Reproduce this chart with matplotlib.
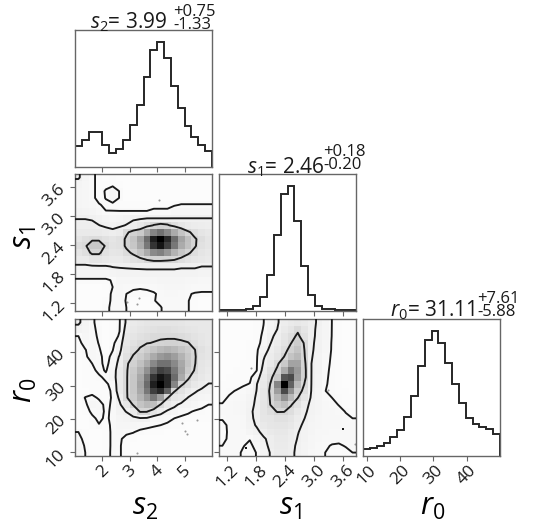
import numpy as np
import matplotlib
matplotlib.use("Agg")
import matplotlib.pyplot as plt
from matplotlib.colors import PowerNorm

plt.rcParams["font.family"] = ["Open Sans", "DejaVu Sans"]
plt.rcParams["mathtext.fontset"] = "custom"
plt.rcParams["mathtext.rm"] = "Open Sans"
plt.rcParams["mathtext.it"] = "Open Sans:italic"

# parameter ranges (axis limits of the corner plot)
s2_range = (1.0, 6.0)
s1_range = (1.03, 3.87)
r0_range = (8.8, 50.0)

s2_ticks = [2, 3, 4, 5]
s1_ticks = [1.2, 1.8, 2.4, 3.0, 3.6]
r0_ticks = [10, 20, 30, 40]

# marginal histograms, 20 bins each
s2_counts = [63, 81, 106, 106, 66, 43, 54, 83, 126, 186, 273, 353, 376, 329, 246, 178, 123, 91, 66, 48]
s1_counts = [2, 2, 3, 4, 5, 16, 43, 108, 231, 356, 378, 274, 136, 48, 16, 6, 5, 3, 2, 2]
r0_counts = [20, 23, 30, 40, 58, 80, 118, 180, 273, 350, 376, 342, 280, 218, 160, 115, 96, 88, 82, 65]

# median, +err, -err
s2_summary = ("3.99", "0.75", "1.33")
s1_summary = ("2.46", "0.18", "0.20")
r0_summary = ("31.11", "7.61", "5.88")

# 2d densities in percent of peak, 20x20, first row = top of panel
dens_s2_s1 = [
    [3.3, 1.8, 1.3, 0.6, 0.5, 0.7, 0.5, 0.4, 0.4, 0.4, 0.4, 0.4, 0.4, 0.4, 0.4, 0.4, 0.4, 0.4, 0.4, 0.4],
    [2.0, 1.6, 1.3, 0.6, 0.7, 0.7, 0.6, 0.4, 0.4, 0.4, 0.4, 0.4, 0.4, 0.4, 0.4, 0.4, 0.4, 0.4, 0.4, 0.4],
    [1.8, 1.6, 1.3, 0.6, 1.1, 1.7, 0.95, 0.4, 0.4, 0.4, 0.4, 0.4, 0.4, 0.4, 0.4, 0.4, 0.4, 0.4, 0.4, 0.4],
    [1.8, 1.6, 1.3, 0.6, 1.05, 1.7, 0.95, 0.5, 0.5, 0.5, 0.5, 0.5, 0.5, 0.5, 0.5, 0.5, 0.5, 0.5, 0.5, 0.5],
    [1.8, 1.7, 1.5, 1.1, 0.75, 0.7, 0.6, 0.6, 0.6, 0.6, 0.6, 0.6, 0.6, 0.6, 0.9, 1.05, 1.05, 1.05, 1.05, 1.05],
    [2.2, 2.0, 1.8, 1.5, 1.05, 1.05, 1.05, 1.05, 1.05, 1.05, 1.05, 1.3, 1.3, 1.3, 1.6, 1.6, 1.6, 1.6, 1.6, 1.6],
    [2.95, 2.95, 2.8, 2.2, 1.8, 1.6, 1.8, 2.3, 2.7, 2.8, 3.05, 3.05, 3.05, 3.05, 3.05, 3.05, 3.05, 3.05, 3.05, 3.05],
    [3.5, 3.5, 3.5, 3.05, 2.6, 2.4, 2.7, 3.1, 3.8, 5, 7, 10.5, 12, 11, 7.5, 5.5, 4.5, 4, 3.8, 3.6],
    [4.5, 4.5, 4.5, 4.5, 4, 3.5, 4, 9, 12, 14, 25, 40, 48, 38, 25, 16, 11, 8, 6, 5],
    [6, 7.5, 8.5, 8.5, 7, 6, 7, 11, 16, 28, 50, 85, 100, 80, 50, 28, 18, 10.6, 8, 6],
    [8, 9, 15, 15, 9, 6.5, 7, 11, 15, 25, 45, 75, 90, 70, 45, 25, 17, 10.6, 7, 6],
    [6, 7.5, 11, 11, 7, 5.5, 6, 8.5, 11, 16, 25, 38, 42, 33, 22, 15, 11, 8, 6, 5],
    [4.5, 4.5, 6, 6, 5, 4.5, 4.5, 5.5, 7, 8, 10.3, 11.5, 11.5, 11, 10.3, 8, 6.5, 5.5, 5, 4.5],
    [2.5, 2.5, 2.6, 2.7, 2.8, 3.1, 3.2, 3.3, 3.4, 3.5, 3.6, 3.6, 3.6, 3.6, 3.6, 3.3, 3.3, 3.3, 3.0, 3.0],
    [1.8, 1.8, 1.8, 1.8, 1.8, 2.0, 2.2, 2.2, 2.2, 2.2, 2.2, 2.2, 2.2, 2.2, 2.2, 2.2, 2.2, 2.2, 2.0, 2.0],
    [0.8, 0.8, 0.8, 0.8, 0.8, 1.1, 1.7, 1.7, 1.6, 1.6, 1.6, 1.7, 1.8, 1.8, 1.8, 1.8, 1.7, 1.6, 1.5, 1.5],
    [0.5, 0.5, 0.5, 0.5, 0.6, 1.0, 1.5, 1.3, 1.15, 1.1, 1.15, 1.3, 1.5, 1.6, 1.6, 1.6, 1.4, 1.25, 1.25, 1.25],
    [0.5, 0.5, 0.5, 0.5, 0.5, 1.2, 1.4, 1.0, 0.8, 0.75, 0.8, 0.9, 1.2, 1.4, 1.4, 1.3, 1.05, 0.95, 0.9, 0.9],
    [0.5, 0.5, 0.5, 0.5, 0.7, 1.15, 1.3, 0.95, 0.5, 0.4, 0.45, 0.95, 1.2, 1.3, 1.3, 1.2, 1.05, 0.6, 0.5, 0.5],
    [0.5, 0.5, 0.5, 0.5, 0.8, 1.2, 1.3, 1.0, 0.5, 0.4, 0.4, 0.6, 0.95, 1.3, 1.3, 1.2, 1.05, 0.6, 0.5, 0.5],
]

dens_s2_r0 = [
    [3.4, 2.0, 1.15, 0.7, 0.5, 0.6, 0.9, 3.3, 4.5, 5, 5.5, 6, 6, 6, 6, 5.5, 5, 5, 5, 5],
    [2.2, 1.8, 1.2, 0.8, 0.5, 0.6, 0.95, 3.8, 5, 6, 6.5, 7, 7.5, 7.5, 7, 6.5, 6, 5.5, 5, 5],
    [1.0, 1.6, 1.3, 0.85, 0.5, 0.6, 1.1, 4.5, 6, 7, 8, 9, 9, 9, 9, 8.5, 7.5, 6.5, 5.5, 5],
    [0.7, 1.4, 1.4, 0.95, 0.5, 0.7, 1.8, 5, 7, 9, 9.8, 10.2, 11, 11.5, 11.5, 11, 10.3, 8, 6, 5],
    [0.6, 0.95, 1.5, 1.1, 0.55, 0.95, 2.2, 6, 8.5, 10.5, 13, 16, 20, 22, 20, 16, 13, 10.1, 7, 5.5],
    [0.55, 0.8, 1.5, 1.3, 0.6, 1.3, 3.2, 7, 10.5, 13, 18, 25, 32, 35, 30, 22, 15, 10.5, 6.5, 5.5],
    [0.5, 0.7, 1.0, 1.3, 0.7, 1.5, 3.8, 9.3, 12, 17, 25, 38, 48, 48, 38, 26, 16, 10.3, 6, 5],
    [0.5, 0.6, 0.7, 1.3, 0.9, 1.7, 4.5, 9.3, 14, 22, 35, 55, 70, 65, 45, 28, 14, 9.5, 5.5, 4.5],
    [0.5, 0.6, 0.7, 0.8, 1.25, 1.8, 4.6, 9.3, 15, 26, 45, 75, 90, 80, 50, 25, 11, 7, 5, 4],
    [0.5, 0.6, 0.65, 0.7, 0.85, 1.3, 4.6, 9.3, 15, 28, 50, 85, 100, 80, 40, 11, 8, 5, 4, 2.9],
    [0.5, 0.55, 0.6, 0.65, 0.7, 1.15, 4.4, 9.3, 15, 26, 45, 70, 80, 55, 10.5, 7, 4.5, 3.3, 2.5, 2.2],
    [0.5, 1.05, 1.3, 0.85, 0.7, 1.1, 3.4, 9.3, 14, 22, 32, 45, 30, 10.3, 6, 5, 2.9, 2.2, 1.9, 1.6],
    [0.5, 0.8, 1.6, 1.4, 0.75, 1.15, 2.6, 5, 10.5, 16, 20, 18, 9.5, 5, 3.6, 2.4, 2.0, 1.6, 1.25, 1.0],
    [0.5, 0.6, 1.2, 1.5, 0.8, 1.2, 2.2, 3.1, 4.5, 10.5, 10.4, 6, 4, 2.6, 2.0, 1.4, 1.15, 0.9, 0.8, 0.7],
    [0.5, 0.5, 0.8, 1.2, 0.85, 1.2, 1.8, 2.0, 2.5, 2.7, 2.5, 1.5, 1.6, 1.35, 1.0, 0.8, 0.7, 0.6, 0.6, 0.6],
    [0.5, 0.5, 0.6, 0.95, 0.7, 1.2, 1.6, 1.6, 1.7, 1.4, 1.25, 1.1, 1.0, 0.8, 0.7, 0.6, 0.55, 0.5, 0.5, 0.5],
    [1.0, 0.6, 0.5, 0.55, 0.6, 1.2, 1.4, 1.2, 1.05, 0.8, 0.7, 0.65, 0.6, 0.55, 0.5, 0.5, 0.5, 0.5, 0.5, 0.5],
    [1.3, 0.7, 0.5, 0.5, 0.6, 1.2, 1.15, 0.7, 0.6, 0.5, 0.5, 0.5, 0.5, 0.5, 0.45, 0.45, 0.45, 0.45, 0.45, 0.45],
    [1.5, 0.9, 0.5, 0.5, 0.6, 1.2, 1.1, 0.6, 0.5, 0.45, 0.45, 0.45, 0.45, 0.45, 0.45, 0.45, 0.45, 0.45, 0.45, 0.45],
    [1.6, 1.0, 0.55, 0.5, 0.65, 1.2, 1.1, 0.6, 0.5, 0.4, 0.4, 0.4, 0.4, 0.4, 0.4, 0.4, 0.4, 0.4, 0.4, 0.4],
]

dens_s1_r0 = [
    [0.4, 0.4, 0.4, 0.45, 0.5, 0.6, 0.97, 1.8, 2.8, 3.8, 4.5, 5, 4.5, 3.6, 2.7, 1.8, 0.98, 0.6, 0.5, 0.5],
    [0.4, 0.4, 0.4, 0.45, 0.5, 0.6, 1.05, 2.0, 3.0, 4.5, 6, 9, 6, 3.5, 2.6, 1.8, 0.97, 0.6, 0.5, 0.5],
    [0.4, 0.4, 0.45, 0.5, 0.55, 0.6, 1.2, 2.5, 3.6, 5.5, 8, 11, 7, 3.4, 2.6, 1.75, 0.96, 0.6, 0.5, 0.5],
    [0.4, 0.45, 0.5, 0.5, 0.6, 0.65, 1.35, 2.9, 4.2, 6.5, 9.8, 13, 9.5, 3.3, 2.5, 1.6, 0.93, 0.6, 0.5, 0.5],
    [0.45, 0.5, 0.5, 0.55, 0.6, 0.8, 2.0, 3.5, 5, 8, 12, 16, 9.8, 3.2, 2.5, 1.55, 0.92, 0.6, 0.5, 0.5],
    [0.45, 0.5, 0.5, 0.55, 0.6, 0.85, 2.8, 4, 6, 10, 16, 20, 10.2, 3.1, 2.4, 1.4, 0.88, 0.6, 0.5, 0.5],
    [0.5, 0.5, 0.55, 0.6, 0.65, 0.9, 3.2, 5, 9, 14, 28, 28, 11, 3.0, 2.3, 1.3, 0.85, 0.6, 0.55, 0.5],
    [0.5, 0.55, 0.6, 0.6, 0.7, 0.95, 3.8, 7, 11, 25, 45, 32, 11.5, 3.0, 2.2, 1.2, 0.83, 0.6, 0.55, 0.5],
    [0.55, 0.6, 0.6, 0.65, 0.7, 2.0, 4.5, 8.5, 14, 60, 65, 30, 11.5, 2.95, 2.1, 1.15, 0.8, 0.6, 0.55, 0.5],
    [0.6, 0.6, 0.65, 0.85, 1.05, 2.9, 5, 10.2, 40, 100, 55, 20, 9.5, 2.9, 2.0, 1.1, 0.78, 0.6, 0.55, 0.5],
    [0.7, 0.85, 1.05, 1.3, 1.6, 3.05, 5.5, 11, 30, 65, 35, 13, 8, 2.8, 1.9, 1.02, 0.75, 0.65, 0.6, 0.55],
    [0.8, 1.1, 1.3, 1.5, 2.0, 3.3, 5.5, 10.5, 20, 35, 20, 10.1, 6, 2.5, 1.8, 1.2, 1.0, 0.75, 0.65, 0.6],
    [1.05, 1.3, 1.5, 1.6, 2.2, 3.5, 6, 10.1, 14, 18, 10.5, 7, 4, 2.3, 1.8, 1.4, 1.3, 0.95, 0.7, 0.6],
    [1.15, 1.3, 1.4, 1.6, 2.6, 3.6, 6, 8, 10.3, 10.2, 8, 5, 3.4, 2.2, 1.8, 1.5, 1.4, 1.3, 0.95, 0.8],
    [1.1, 1.3, 1.3, 1.5, 2.5, 3.5, 5.5, 6, 7, 7, 6, 4, 3.0, 2.0, 1.7, 1.5, 1.4, 1.35, 1.2, 1.0],
    [0.7, 1.2, 1.3, 1.4, 2.3, 3.2, 4.8, 5.5, 6, 6, 5, 3.5, 2.6, 1.9, 1.6, 1.5, 1.35, 1.35, 1.3, 1.3],
    [0.6, 1.2, 1.25, 1.3, 1.8, 2.5, 3.6, 4.5, 5, 5, 4, 3.1, 2.4, 1.8, 1.5, 1.4, 1.3, 1.3, 1.3, 1.3],
    [0.7, 1.2, 1.2, 1.15, 1.05, 1.6, 2.7, 3.6, 4.5, 4.5, 3.8, 2.9, 2.2, 1.7, 1.4, 1.2, 1.2, 1.2, 1.2, 1.25],
    [1.0, 1.3, 1.2, 1.05, 0.8, 1.3, 2.4, 3.4, 4.2, 4.2, 3.5, 2.7, 2.1, 1.6, 1.3, 1.1, 0.95, 0.9, 1.05, 1.15],
    [1.2, 1.3, 1.2, 0.9, 0.6, 1.05, 2.0, 3.1, 4, 4, 3.4, 2.6, 2.0, 1.5, 1.2, 1.0, 0.7, 0.6, 0.8, 1.0],
]

contour_levels = [1, 3, 10]

# stray samples visible outside the outer contour
pts_s2_s1 = ([4.08, 2.90, 3.26, 3.32], [3.33, 1.22, 1.17, 1.29])
pts_s2_r0 = ([4.90, 5.03, 5.09, 5.45, 3.26], [18.8, 16.3, 15.3, 19.6, 9.6])
pts_s1_r0 = ([3.85, 1.69, 3.29], [12.5, 35.4, 28.6])
pts_s1_r0_dense = ([3.61, 1.59], [16.8, 11.1])

W, H = 544, 522
fig = plt.figure(figsize=(W / 100, H / 100), dpi=100)
col_x = [75, 219, 363]
row_y = [30, 174, 319]
size = 137


def add_ax(col, row):
    ax = fig.add_axes([col_x[col] / W, 1 - (row_y[row] + size) / H, size / W, size / H])
    for sp in ax.spines.values():
        sp.set_color("0.4")
        sp.set_linewidth(1.0)
    ax.tick_params(direction="out", length=3.5, width=0.8, color="0.4",
                   labelsize=12.5, labelcolor="0.1", pad=1)
    return ax


def hist_panel(ax, counts, rng, ticks):
    edges = np.linspace(rng[0], rng[1], len(counts) + 1)
    ax.stairs(counts, edges, color="0.15", lw=1.4)
    ax.set_xlim(rng)
    ax.set_ylim(0, 1.1 * max(counts))
    ax.set_yticks([])
    ax.set_xticks(ticks)


def density_panel(ax, grid, xr, yr, xt, yt):
    z = np.array(grid, dtype=float)[::-1]
    ny, nx = z.shape
    xe = np.linspace(xr[0], xr[1], nx + 1)
    ye = np.linspace(yr[0], yr[1], ny + 1)
    ax.pcolormesh(xe, ye, z, cmap="gray_r", norm=PowerNorm(0.8, vmin=0, vmax=z.max()),
                  antialiased=True, zorder=1)
    xc = 0.5 * (xe[1:] + xe[:-1])
    yc = 0.5 * (ye[1:] + ye[:-1])
    dx, dy = xe[1] - xe[0], ye[1] - ye[0]
    xp = np.concatenate([[xc[0] - dx], xc, [xc[-1] + dx]])
    yp = np.concatenate([[yc[0] - dy], yc, [yc[-1] + dy]])
    zp = np.pad(z, 1, mode="edge")
    ax.contour(xp, yp, zp, levels=contour_levels, colors="0.1", linewidths=1.35, zorder=3)
    ax.set_xlim(xr)
    ax.set_ylim(yr)
    ax.set_xticks(xt)
    ax.set_yticks(yt)


# diagonal
ax_h1 = add_ax(0, 0)
hist_panel(ax_h1, s2_counts, s2_range, s2_ticks)
ax_h1.set_xticklabels([])

ax_h2 = add_ax(1, 1)
hist_panel(ax_h2, s1_counts, s1_range, s1_ticks)
ax_h2.set_xticklabels([])

ax_h3 = add_ax(2, 2)
hist_panel(ax_h3, r0_counts, r0_range, r0_ticks)
ax_h3.set_xticklabels([str(t) for t in r0_ticks], rotation=45)

# off-diagonal
ax_a = add_ax(0, 1)
density_panel(ax_a, dens_s2_s1, s2_range, s1_range, s2_ticks, s1_ticks)
ax_a.plot(*pts_s2_s1, "o", ms=1.5, color="0.6", mew=0, zorder=2)
ax_a.set_xticklabels([])
ax_a.set_yticklabels(["%.1f" % t for t in s1_ticks], rotation=45)

ax_b = add_ax(0, 2)
density_panel(ax_b, dens_s2_r0, s2_range, r0_range, s2_ticks, r0_ticks)
ax_b.plot(*pts_s2_r0, "o", ms=1.5, color="0.6", mew=0, zorder=2)
ax_b.set_xticklabels([str(t) for t in s2_ticks], rotation=45)
ax_b.set_yticklabels([str(t) for t in r0_ticks], rotation=45)

ax_c = add_ax(1, 2)
density_panel(ax_c, dens_s1_r0, s1_range, r0_range, s1_ticks, r0_ticks)
ax_c.plot(*pts_s1_r0, "o", ms=1.5, color="0.6", mew=0, zorder=2)
ax_c.plot(*pts_s1_r0_dense, "s", ms=1.8, color="0.1", mew=0, zorder=2)
ax_c.set_xticklabels(["%.1f" % t for t in s1_ticks], rotation=45)
ax_c.set_yticklabels([])


def px(x, y):
    return x / W, 1 - y / H


# titles: median with asymmetric errors (errors stacked as one two-line text)
def title(label, summ, x_main, y_base, x_err, y_err_bottom):
    fig.text(*px(x_main, y_base), "%s= %s" % (label, summ[0]), ha="right",
             va="baseline", fontsize=15, color="0.1")
    fig.text(*px(x_err, y_err_bottom), "+%s\n-%s" % (summ[1], summ[2]),
             ha="left", va="bottom", fontsize=12, linespacing=0.78, color="0.1")


title("$s_2$", s2_summary, 167, 28.5, 173, 33)
title("$s_1$", s1_summary, 325, 173, 323, 173)
title("$r_0$", r0_summary, 475, 316.5, 477, 320)

# axis labels
fig.text(*px(145, 507), "$s_2$", ha="center", va="center", fontsize=22)
fig.text(*px(290, 507), "$s_1$", ha="center", va="center", fontsize=22)
fig.text(*px(433, 507), "$r_0$", ha="center", va="center", fontsize=22)
fig.text(*px(24, 238), "$s_1$", ha="center", va="center", fontsize=22, rotation=90)
fig.text(*px(24, 390), "$r_0$", ha="center", va="center", fontsize=22, rotation=90)

fig.savefig("out.png", dpi=100)
plt.close(fig)
